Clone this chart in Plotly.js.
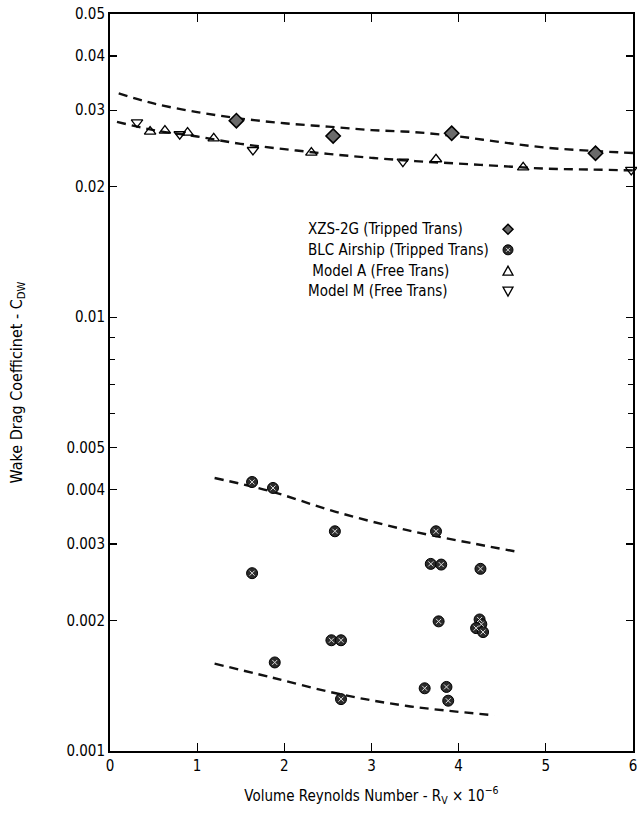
<!DOCTYPE html>
<html>
<head>
<meta charset="utf-8">
<script src="https://cdn.plot.ly/plotly-3.0.1.min.js"></script>
<style>html,body{margin:0;padding:0;background:#fff;}#chart{width:637px;height:815px;}</style>
</head>
<body>
<div id="chart"></div>
<script>
// ---- data ----
const xzsX = [1.45, 2.56, 3.92, 5.57];
const xzsY = [0.02838, 0.02617, 0.02655, 0.02388];

const blcX = [1.63, 1.87, 2.58, 3.74, 1.63, 3.68, 3.80, 4.25, 3.77, 4.24, 4.26, 4.20, 4.28, 2.54, 2.65, 1.89, 3.61, 3.86, 2.65, 3.88];
const blcY = [0.00417, 0.00404, 0.00321, 0.00321, 0.00257, 0.00270, 0.00269, 0.00263, 0.00199, 0.00201, 0.00196, 0.00192, 0.00188, 0.00180, 0.00180, 0.00160, 0.001395, 0.001405, 0.001317, 0.001306];

const modelAX = [0.46, 0.63, 0.89, 1.19, 2.31, 3.74, 4.74];
const modelAY = [0.02678, 0.02692, 0.02663, 0.02585, 0.02395, 0.02313, 0.02216];

const modelMX = [0.31, 0.80, 1.64, 3.36, 5.98];
const modelMY = [0.02814, 0.02641, 0.02429, 0.02284, 0.02185];

const fitTrippedX = [0.1, 0.5, 1.0, 1.5, 2.0, 2.5, 3.0, 3.5, 4.0, 4.5, 5.0, 5.5, 6.0];
const fitTrippedY = [0.0328, 0.0311, 0.0297, 0.0287, 0.0280, 0.0275, 0.0270, 0.0267, 0.0261, 0.0253, 0.0246, 0.0242, 0.0239];

const fitFreeX = [0.08, 0.5, 1.0, 1.5, 2.0, 2.5, 3.0, 3.5, 4.0, 4.5, 5.0, 5.5, 6.0];
const fitFreeY = [0.0282, 0.0270, 0.0261, 0.0251, 0.0244, 0.0238, 0.0233, 0.0229, 0.0226, 0.0223, 0.0220, 0.0219, 0.0218];

const fitBlcUpperX = [1.2, 1.84, 2.59, 3.41, 4.2, 4.67];
const fitBlcUpperY = [0.00426, 0.00397, 0.00356, 0.00323, 0.00300, 0.00288];

const fitBlcLowerX = [1.2, 1.84, 2.63, 3.41, 4.41];
const fitBlcLowerY = [0.00159, 0.00148, 0.001353, 0.00127, 0.001209];

const xTicks = [0, 1, 2, 3, 4, 5, 6];
const yTickVals = [0.001, 0.002, 0.003, 0.004, 0.005, 0.01, 0.02, 0.03, 0.04, 0.05];
const yTickText = ['0.001', '0.002', '0.003', '0.004', '0.005', '0.01', '0.02', '0.03', '0.04', '0.05'];
const yMinorVals = [0.006, 0.007, 0.008, 0.009];

const legendNames = ['XZS-2G (Tripped Trans)', 'BLC Airship (Tripped Trans)', ' Model A (Free Trans)', 'Model M (Free Trans)'];

// ---- styles ----
const FONT = 'DejaVu Sans Condensed, Liberation Sans Narrow, Arial Narrow, sans-serif';
const dashLine = {color: '#111', width: 2.4, dash: '9px,6px', shape: 'spline'};
const diamondMk = {symbol: 'diamond', size: 11, color: '#6a6a6a', line: {color: '#000', width: 1.6}};
const circleMk = {symbol: 'circle', size: 11, color: '#2b2b2b', line: {color: '#000', width: 1}};
const circleInner = {symbol: 'x-thin', size: 5, color: '#ddd', line: {color: '#ddd', width: 1}};
const upMk = {symbol: 'triangle-up-open', size: 10, color: '#000', line: {color: '#000', width: 1.3}};
const downMk = {symbol: 'triangle-down-open', size: 10, color: '#000', line: {color: '#000', width: 1.3}};

const traces = [
  {x: fitTrippedX, y: fitTrippedY, mode: 'lines', line: dashLine},
  {x: fitFreeX, y: fitFreeY, mode: 'lines', line: dashLine},
  {x: fitBlcUpperX, y: fitBlcUpperY, mode: 'lines', line: dashLine},
  {x: fitBlcLowerX, y: fitBlcLowerY, mode: 'lines', line: dashLine},
  {x: xzsX, y: xzsY, mode: 'markers', marker: diamondMk, cliponaxis: false},
  {x: blcX, y: blcY, mode: 'markers', marker: circleMk, cliponaxis: false},
  {x: blcX, y: blcY, mode: 'markers', marker: circleInner, cliponaxis: false},
  {x: modelAX, y: modelAY, mode: 'markers', marker: upMk, cliponaxis: false},
  {x: modelMX, y: modelMY, mode: 'markers', marker: downMk, cliponaxis: false},
];
traces.forEach(t => { t.showlegend = false; t.hoverinfo = 'skip'; });

// legend key symbols drawn as pixel-sized shapes anchored in paper space
const keyX = 0.761;
const keyY = [0.708, 0.680, 0.651, 0.624];
function keyShape(i, extra) {
  return Object.assign({xref: 'paper', yref: 'paper', xsizemode: 'pixel', ysizemode: 'pixel',
    xanchor: keyX, yanchor: keyY[i]}, extra);
}
const shapes = [
  keyShape(0, {type: 'path', path: 'M0,5 L5,0 L0,-5 L-5,0 Z', fillcolor: '#6a6a6a', line: {color: '#000', width: 1.5}}),
  keyShape(1, {type: 'circle', x0: -5, x1: 5, y0: -5, y1: 5, fillcolor: '#2b2b2b', line: {color: '#000', width: 1}}),
  keyShape(1, {type: 'path', path: 'M-2,-2 L2,2 M-2,2 L2,-2', line: {color: '#ddd', width: 1}}),
  keyShape(2, {type: 'path', path: 'M-5,-4 L5,-4 L0,5 Z', line: {color: '#000', width: 1.3}}),
  keyShape(3, {type: 'path', path: 'M-5,4 L5,4 L0,-5 Z', line: {color: '#000', width: 1.3}}),
];

const textX = 0.3748;
const annotations = legendNames.map((name, i) => ({
  x: textX, y: keyY[i], xref: 'paper', yref: 'paper', xanchor: 'left', yanchor: 'middle',
  text: name, showarrow: false, font: {family: FONT, size: 15, color: '#000'}
}));

const layout = {
  width: 637, height: 815,
  margin: {l: 110, r: 4, t: 14, b: 64},
  paper_bgcolor: '#fff', plot_bgcolor: '#fff',
  font: {family: FONT, color: '#000', size: 14},
  showlegend: false,
  xaxis: {
    range: [0, 6], tickvals: xTicks, ticktext: xTicks.map(String),
    ticks: 'inside', ticklen: 8, tickwidth: 1.2, tickcolor: '#000',
    showline: true, linecolor: '#000', linewidth: 2, mirror: 'ticks',
    showgrid: false, zeroline: false, ticklabeloverflow: 'allow',
    tickfont: {family: FONT, size: 15},
    title: {text: 'Volume Reynolds Number - R<sub>V</sub> × 10<sup>−6</sup>', font: {family: FONT, size: 15}, standoff: 16}
  },
  yaxis: {
    type: 'log', range: [-3, Math.log10(0.05)],
    tickvals: yTickVals, ticktext: yTickText,
    ticks: 'inside', ticklen: 7, tickwidth: 1.2, tickcolor: '#000',
    minor: {tickvals: yMinorVals, ticks: 'inside', ticklen: 5, tickwidth: 1, tickcolor: '#000', showgrid: false},
    showline: true, linecolor: '#000', linewidth: 2, mirror: 'ticks',
    showgrid: false, zeroline: false,
    tickfont: {family: FONT, size: 15},
    title: {text: 'Wake Drag Coefficinet - C<sub>DW</sub>', font: {family: FONT, size: 16}, standoff: 40}
  },
  shapes: shapes,
  annotations: annotations
};

Plotly.newPlot('chart', traces, layout, {staticPlot: true, displayModeBar: false});
</script>
</body>
</html>
